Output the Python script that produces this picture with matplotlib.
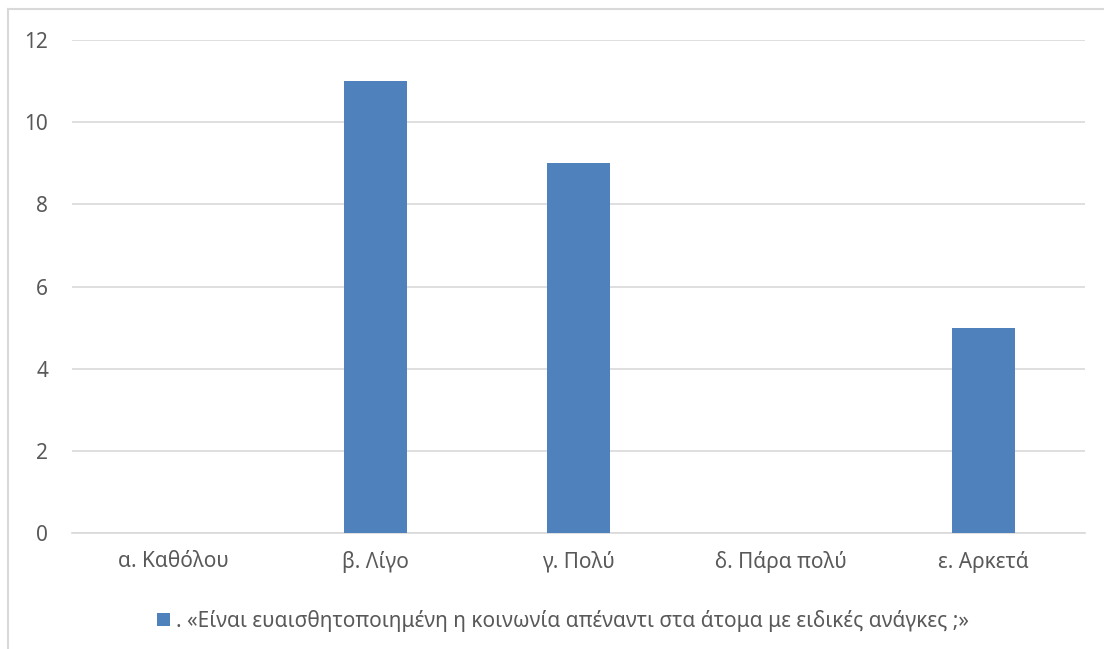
import matplotlib.pyplot as plt
from matplotlib.lines import Line2D

# survey answers and counts
categories = ["α. Καθόλου", "β. Λίγο", "γ. Πολύ", "δ. Πάρα πολύ", "ε. Αρκετά"]
counts = [0, 11, 9, 0, 5]
series_label = ". «Είναι ευαισθητοποιημένη η κοινωνία απέναντι στα άτομα με ειδικές ανάγκες ;»"
yticks = [0, 2, 4, 6, 8, 10, 12]

plt.rcParams['font.family'] = ['Noto Sans', 'DejaVu Sans']
text_color = '#595959'
grid_color = '#D9D9D9'
bar_color = '#4F81BD'

fig = plt.figure(figsize=(11.04, 6.49), dpi=100)
ax = fig.add_axes([0.0652, 0.1787, 0.9176, 0.7597])

x = list(range(len(categories)))
ax.bar(x, counts, width=0.31, color=bar_color, label=series_label, zorder=3)

ax.set_xlim(-0.5, len(categories) - 0.5)
ax.set_ylim(0, 12)
ax.set_yticks(yticks)
ax.set_xticks(x)
ax.set_xticklabels(categories)
ax.tick_params(axis='both', length=0, colors=text_color, labelsize=15)
ax.tick_params(axis='x', pad=13)
ax.tick_params(axis='y', pad=17)
ax.yaxis.grid(True, color=grid_color, linewidth=1.2, zorder=0)
for side in ['left', 'right', 'top']:
    ax.spines[side].set_visible(False)
ax.spines['bottom'].set_color(grid_color)
ax.spines['bottom'].set_linewidth(1.2)

ax.legend(loc='center', bbox_to_anchor=(0.51, 0.043), bbox_transform=fig.transFigure,
          frameon=False, fontsize=15, labelcolor=text_color, handlelength=0.6,
          handleheight=0.6, handletextpad=0.3)

# chart area border (left and top edges visible)
fig.add_artist(Line2D([8 / 1104, 8 / 1104], [0, 1 - 9 / 649], transform=fig.transFigure,
                      color=grid_color, linewidth=1.5))
fig.add_artist(Line2D([8 / 1104, 1], [1 - 9 / 649, 1 - 9 / 649], transform=fig.transFigure,
                      color=grid_color, linewidth=1.5))

fig.savefig('out.png', dpi=100)
